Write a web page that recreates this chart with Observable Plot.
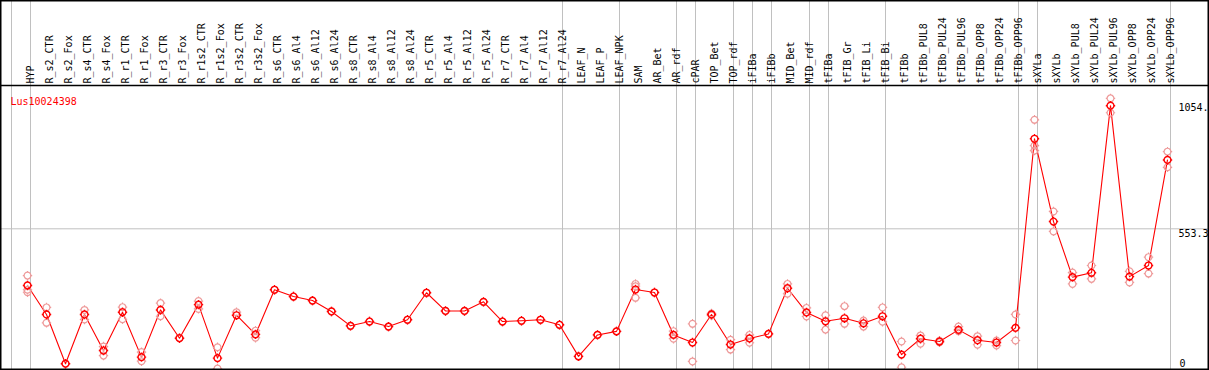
<!DOCTYPE html>
<html><head><meta charset="utf-8">
<script src="https://cdn.jsdelivr.net/npm/d3@7"></script>
<script src="https://cdn.jsdelivr.net/npm/@observablehq/plot@0.6"></script>
<style>
body{margin:0;background:#fff;}
#chart svg{display:block;}
</style></head><body><div id="chart"></div>
<script>
const gene = "Lus10024398";
const labels = ["HYP","R_s2_CTR","R_s2_Fox","R_s4_CTR","R_s4_Fox","R_r1_CTR","R_r1_Fox","R_r3_CTR","R_r3_Fox","R_r1s2_CTR","R_r1s2_Fox","R_r3s2_CTR","R_r3s2_Fox","R_s6_CTR","R_s6_Al4","R_s6_Al12","R_s6_Al24","R_s8_CTR","R_s8_Al4","R_s8_Al12","R_s8_Al24","R_r5_CTR","R_r5_Al4","R_r5_Al12","R_r5_Al24","R_r7_CTR","R_r7_Al4","R_r7_Al12","R_r7_Al24","LEAF_N","LEAF_P","LEAF_NPK","SAM","AR_Bet","AR_rdf","cPAR","TOP_Bet","TOP_rdf","iFIBa","iFIBb","MID_Bet","MID_rdf","tFIBa","tFIB_Gr","tFIB_Li","tFIB_Bi","tFIBb","tFIBb_PUL8","tFIBb_PUL24","tFIBb_PUL96","tFIBb_OPP8","tFIBb_OPP24","tFIBb_OPP96","sXYLa","sXYLb","sXYLb_PUL8","sXYLb_PUL24","sXYLb_PUL96","sXYLb_OPP8","sXYLb_OPP24","sXYLb_OPP96"];
const means = [329,214,19,214,71,223,45,232,120,253,41,211,135,312,285,269,226,169,186,166,193,300,228,228,264,186,189,193,173,48,133,147,313,301,133,103,214,95,119,137,318,222,187,199,179,207,55,118,107,153,112,103,161,910,582,362,379,1041,364,408,826];
const reps = [[368,312,302],[242,181],[19],[232,194],[87,51],[243,195],[65,29],[259,207],[120],[267,236],[84,0],[223],[150,122],[312],[285],[269],[226],[169],[186],[166],[193],[300],[228],[228],[264],[186],[189],[193],[173],[48],[133],[147],[335,326,280],[301],[148,118],[177,28],[218,210],[114,75],[133,102],[137],[335,296],[240,206],[211,154],[247,177],[190,166],[242,185],[107,5],[131,98],[110,104],[166,148],[128,94],[111,91],[214,111],[985,883,863],[622,543],[380,335],[408,355],[1070,1013],[385,341],[441,376],[859,797]];
const groupStarts = ["HYP","R_s2_CTR","LEAF_N","SAM","cPAR","TOP_Bet","iFIBa","iFIBb","MID_Bet","tFIBa","tFIB_Gr","tFIBb","sXYLa","sXYLb"];
const gridValues = [553.3];
const tickValues = [1054, 553.3];
const tickLabels = ["1054.", "553.3"];
const zeroLabel = ["0"];

const meanData = labels.map((l, i) => ({label: l, value: means[i]}));
const repData = labels.flatMap((l, i) => reps[i].map(v => ({label: l, value: v})));

const ring = {
  draw(ctx, size) {
    const r = Math.sqrt(size / Math.PI);
    ctx.moveTo(r, 0);
    ctx.arc(0, 0, r, 0, 2 * Math.PI);
    const s = 1.3;
    ctx.moveTo(0, -r); ctx.lineTo(0, -r - s);
    ctx.moveTo(0, r); ctx.lineTo(0, r + s);
    ctx.moveTo(-r, 0); ctx.lineTo(-r - s, 0);
    ctx.moveTo(r, 0); ctx.lineTo(r + s, 0);
  }
};

const W = 1209, H = 370;
const plot = Plot.plot({
  width: W, height: H, margin: 0,
  style: {background: "#fff", fontFamily: "'DejaVu Sans Mono', monospace", fontSize: "10px"},
  x: {type: "point", domain: labels, range: [26.5, 1166.5], padding: 0, axis: null},
  y: {domain: [0, 1054], range: [368, 101.9], axis: null},
  marks: [
    Plot.ruleY(gridValues, {stroke: "#c0c0c0", strokeWidth: 1}),
    Plot.ruleX(groupStarts, {x: d => d, dx: -16, stroke: "#c0c0c0"}),
    Plot.ruleX([labels[labels.length - 1]], {x: d => d, dx: 3, stroke: "#c0c0c0"}),
    Plot.line(meanData, {x: "label", y: "value", stroke: "#ff0000", strokeWidth: 1.1}),
    Plot.dot(repData, {x: "label", y: "value", r: 3.4, symbol: ring, stroke: "#ee9a9a", strokeWidth: 1.2, fill: "none"}),
    Plot.dot(meanData, {x: "label", y: "value", r: 3.4, symbol: ring, stroke: "#ff0000", strokeWidth: 1.4, fill: "none"}),
    Plot.text(labels, {x: d => d, frameAnchor: "top", dy: 83, dx: -1, rotate: -90, textAnchor: "start", fill: "black"}),
    Plot.text([gene], {frameAnchor: "top-left", dx: 10, dy: 97, textAnchor: "start", fill: "#ff0000"}),
    Plot.text(tickValues, {y: d => d, text: (d, i) => tickLabels[i], frameAnchor: "right", dx: -31, textAnchor: "start", lineAnchor: "top", dy: 1, fill: "black"}),
    Plot.text(zeroLabel, {y: () => 0, text: d => d, frameAnchor: "right", dx: -30, textAnchor: "start", lineAnchor: "bottom", dy: -2, fill: "black"})
  ]
});
const svg = d3.select(plot);
svg.append("line").attr("x1", 0).attr("x2", W).attr("y1", 85.5).attr("y2", 85.5).attr("stroke", "black").attr("stroke-width", 1.5);
svg.append("rect").attr("x", 0.75).attr("y", 0.75).attr("width", W - 1.5).attr("height", H - 1.5).attr("fill", "none").attr("stroke", "black").attr("stroke-width", 1.5);
document.getElementById("chart").appendChild(plot);
</script></body></html>
